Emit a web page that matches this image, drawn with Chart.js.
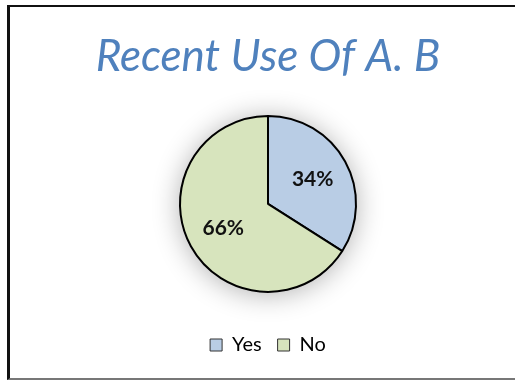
<!DOCTYPE html>
<html>
<head>
<meta charset="utf-8">
<script src="https://cdn.jsdelivr.net/npm/chart.js@4/dist/chart.umd.min.js"></script>
<style>
  html, body { margin: 0; padding: 0; background: #fff; overflow: hidden; }
  body { width: 515px; height: 381px; position: relative; }
  #frame {
    position: absolute; left: 7px; top: 5px; width: 530px; height: 375px;
    border-top: 2px solid #111; border-left: 3px solid #111; border-bottom: 2px solid #777;
    box-sizing: border-box;
  }
  #wrap { position: absolute; left: 10px; top: 0; width: 516px; height: 381px; }
</style>
</head>
<body>
<div id="frame"></div>
<div id="wrap"><canvas id="use-chart"></canvas></div>
<script>
/*global Chart*/

const titleText = "Recent Use Of A. B";
const categories = ["Yes", "No"];
const shares = [34, 66];
const sliceColors = ["#B9CDE5", "#D7E4BD"];

// soft glow behind the pie, like the office chart style
const pieShadow = {
  id: "pieShadow",
  beforeDatasetsDraw(chart) {
    const arc = chart.getDatasetMeta(0).data[0];
    if (!arc) return;
    const ctx = chart.ctx;
    ctx.save();
    ctx.shadowColor = "rgba(0,0,0,0.32)";
    ctx.shadowBlur = 28;
    ctx.shadowOffsetY = 2;
    ctx.fillStyle = "#fff";
    ctx.beginPath();
    ctx.arc(arc.x, arc.y, arc.outerRadius, 0, Math.PI * 2);
    ctx.fill();
    ctx.restore();
  },
};

// percent labels inside the slices
const sliceLabels = {
  id: "sliceLabels",
  afterDatasetsDraw(chart) {
    const ctx = chart.ctx;
    const meta = chart.getDatasetMeta(0);
    ctx.save();
    ctx.font = "bold 21px Lato";
    ctx.fillStyle = "#111";
    ctx.textAlign = "center";
    ctx.textBaseline = "middle";
    meta.data.forEach((arc, i) => {
      const mid = (arc.startAngle + arc.endAngle) / 2;
      const r = arc.outerRadius * 0.58;
      ctx.fillText(shares[i] + "%", arc.x + Math.cos(mid) * r, arc.y + Math.sin(mid) * r);
    });
    ctx.restore();
  },
};

const ctx = document.getElementById("use-chart").getContext("2d");

new Chart(ctx, {
  type: "pie",
  plugins: [pieShadow, sliceLabels],
  data: {
    labels: categories,
    datasets: [
      {
        data: shares,
        backgroundColor: sliceColors,
        borderColor: "#000",
        borderWidth: 2,
      },
    ],
  },
  options: {
    responsive: true,
    maintainAspectRatio: false,
    animation: false,
    radius: 88,
    layout: {
      padding: { top: 0, bottom: 16 },
    },
    plugins: {
      tooltip: { enabled: false },
      title: {
        display: true,
        text: titleText,
        color: "#4F81BD",
        font: { family: "Lato", size: 44, style: "italic", weight: "normal" },
        padding: { top: 30, bottom: 6 },
      },
      legend: {
        position: "bottom",
        labels: {
          boxWidth: 12,
          boxHeight: 12,
          padding: 16,
          color: "#222",
          font: { family: "Lato", size: 20 },
          generateLabels() {
            return categories.map((c, i) => ({
              text: c,
              fillStyle: sliceColors[i],
              strokeStyle: "#333",
              lineWidth: 1,
              index: i,
            }));
          },
        },
      },
    },
  },
});
</script>
</body>
</html>
